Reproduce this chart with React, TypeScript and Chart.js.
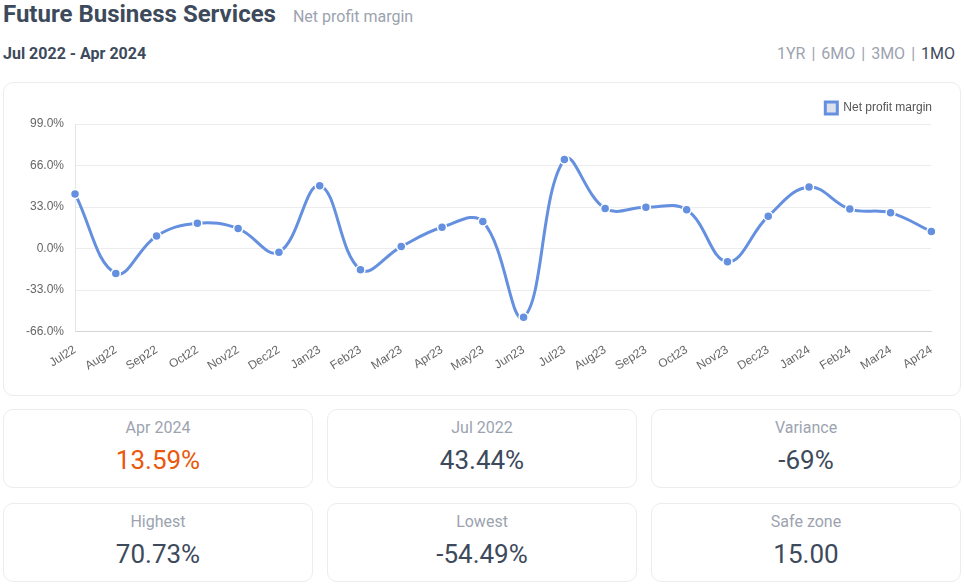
import React, { useEffect, useRef } from "react";
import { Chart, registerables } from "chart.js";

Chart.register(...registerables);

const months: string[] = [
  "Jul22", "Aug22", "Sep22", "Oct22", "Nov22", "Dec22", "Jan23", "Feb23", "Mar23", "Apr23", "May23",
  "Jun23", "Jul23", "Aug23", "Sep23", "Oct23", "Nov23", "Dec23", "Jan24", "Feb24", "Mar24", "Apr24",
];
const netProfitMargin: number[] = [
  43.44, -19.7, 10.1, 20.2, 15.9, -2.9, 50.0, -16.7, 1.6, 17.0, 21.5,
  -54.49, 70.73, 31.9, 32.9, 30.8, -10.4, 25.8, 48.9, 31.4, 28.4, 13.59,
];
const yMin = -66;
const yMax = 99;
const yStep = 33;
const seriesName = "Net profit margin";

const statsRow1 = [
  { label: "Apr 2024", value: "13.59%", highlight: true },
  { label: "Jul 2022", value: "43.44%", highlight: false },
  { label: "Variance", value: "-69%", highlight: false },
];
const statsRow2 = [
  { label: "Highest", value: "70.73%", highlight: false },
  { label: "Lowest", value: "-54.49%", highlight: false },
  { label: "Safe zone", value: "15.00", highlight: false },
];
const ranges = ["1YR", "6MO", "3MO", "1MO"];

const FONT = "Roboto, 'Noto Sans', sans-serif";
const TICK_FONT = "'Liberation Sans', Arial, sans-serif";
const DARK = "#3d4a5c";
const GRAY = "#9ca3af";
const LINE = "#6490df";

function LineChart() {
  const ref = useRef<HTMLCanvasElement | null>(null);
  useEffect(() => {
    if (!ref.current) return;
    const chart = new Chart(ref.current, {
      type: "line",
      data: {
        labels: months,
        datasets: [
          {
            label: seriesName,
            data: netProfitMargin,
            borderColor: LINE,
            backgroundColor: "#dde1ec",
            borderWidth: 3,
            tension: 0.4,
            pointRadius: 4.5,
            pointBackgroundColor: LINE,
            pointBorderColor: "#ffffff",
            pointBorderWidth: 1.5,
            fill: false,
          },
        ],
      },
      options: {
        animation: false,
        responsive: true,
        maintainAspectRatio: false,
        layout: { padding: 0 },
        plugins: {
          legend: {
            position: "top",
            align: "end",
            labels: {
              boxWidth: 12,
              boxHeight: 12,
              color: "#555",
              font: { family: TICK_FONT, size: 12 },
            },
          },
          tooltip: { enabled: false },
        },
        scales: {
          x: {
            grid: { display: false },
            border: { display: true, color: "#d4d4d4" },
            ticks: {
              color: "#666",
              minRotation: 32,
              maxRotation: 32,
              font: { family: TICK_FONT, size: 12 },
            },
          },
          y: {
            min: yMin,
            max: yMax,
            grid: { color: "#ececec", drawTicks: false },
            border: { display: true, color: "#e4e4e4" },
            ticks: {
              stepSize: yStep,
              padding: 11,
              color: "#666",
              font: { family: TICK_FONT, size: 12 },
              callback: (v: any) => Number(v).toFixed(1) + "%",
            },
          },
        },
      },
    });
    return () => chart.destroy();
  }, []);
  return <canvas ref={ref} />;
}

function StatCard(props: { label: string; value: string; highlight: boolean; left: number; top: number }) {
  return (
    <div
      style={{
        position: "absolute",
        left: props.left,
        top: props.top,
        width: 310,
        height: 79,
        boxSizing: "border-box",
        border: "1px solid #ececec",
        borderRadius: 10,
        background: "#fff",
        textAlign: "center",
      }}
    >
      <div style={{ position: "absolute", left: 0, right: 0, top: 8, fontSize: 16, lineHeight: "20px", color: GRAY }}>
        {props.label}
      </div>
      <div
        style={{
          position: "absolute",
          left: 0,
          right: 0,
          top: 34,
          fontSize: 26,
          lineHeight: "32px",
          color: props.highlight ? "#ea580c" : DARK,
        }}
      >
        {props.value}
      </div>
    </div>
  );
}

export default function App() {
  useEffect(() => {
    document.body.style.margin = "0";
  }, []);
  const cols = [3, 327, 651];
  return (
    <div style={{ position: "relative", width: 964, height: 586, fontFamily: FONT, background: "#fff", overflow: "hidden" }}>
      <div style={{ position: "absolute", left: 3, top: 0, lineHeight: "28px", whiteSpace: "nowrap" }}>
        <span style={{ fontSize: 24, fontWeight: 700, color: DARK }}>Future Business Services</span>
        <span style={{ fontSize: 16, color: GRAY, marginLeft: 17 }}>{seriesName}</span>
      </div>
      <div style={{ position: "absolute", left: 3, top: 45, lineHeight: "18px", fontSize: 16, fontWeight: 700, color: DARK }}>
        Jul 2022 - Apr 2024
      </div>
      <div style={{ position: "absolute", right: 9, top: 45, lineHeight: "18px", fontSize: 16, color: GRAY, whiteSpace: "nowrap" }}>
        {ranges.map((r, i) => (
          <span key={r}>
            <span style={{ color: i === ranges.length - 1 ? DARK : GRAY }}>{r}</span>
            {i < ranges.length - 1 ? <span style={{ margin: "0 6px" }}>|</span> : null}
          </span>
        ))}
      </div>
      <div
        style={{
          position: "absolute",
          left: 3,
          top: 82,
          width: 958,
          height: 314,
          boxSizing: "border-box",
          border: "1px solid #ececec",
          borderRadius: 10,
        }}
      >
        <div style={{ position: "absolute", left: 11, top: 9, width: 927, height: 285 }}>
          <LineChart />
        </div>
      </div>
      {statsRow1.map((s, i) => (
        <StatCard key={s.label} {...s} left={cols[i]} top={409} />
      ))}
      {statsRow2.map((s, i) => (
        <StatCard key={s.label} {...s} left={cols[i]} top={503} />
      ))}
    </div>
  );
}
